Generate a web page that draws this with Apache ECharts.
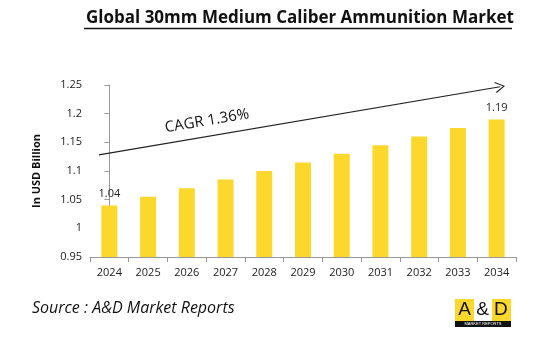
<!DOCTYPE html>
<html><head><meta charset="utf-8">
<script src="https://cdn.jsdelivr.net/npm/echarts@6/dist/echarts.min.js"></script>
<style>html,body{margin:0;padding:0;background:#fff}#c{width:550px;height:341px}</style>
</head><body><div id="c"></div>
<script>
const years = ['2024','2025','2026','2027','2028','2029','2030','2031','2032','2033','2034'];
const values = [1.04, 1.055, 1.07, 1.085, 1.10, 1.115, 1.13, 1.145, 1.16, 1.175, 1.19];
const labeledYears = ['2024','2034'];
const cagrStart = [-0.27, 1.128];
const cagrEnd = [10.09, 1.247];
const titleText = 'Global 30mm Medium Caliber Ammunition Market';
const cagrText = 'CAGR 1.36%';
const sourceText = 'Source : A&D Market Reports';

const font = '"Open Sans", "Liberation Sans", sans-serif';
const chart = echarts.init(document.getElementById('c'));
chart.setOption({
  animation: false,
  title: {
    text: titleText, left: 81, top: 5,
    textStyle: {fontFamily: font, fontWeight: 'bold', fontSize: 17, color: '#111'}
  },
  grid: {left: 90, right: 34, top: 85, bottom: 84},
  xAxis: [{
    type: 'category', data: years,
    axisLine: {lineStyle: {color: '#999'}},
    axisTick: {show: true, alignWithLabel: false, lineStyle: {color: '#999'}},
    axisLabel: {color: '#222', fontSize: 11, fontFamily: font, margin: 10}
  }, {
    type: 'value', min: -0.5, max: 10.5, show: false
  }],
  yAxis: {
    type: 'value', min: 0.95, max: 1.25, interval: 0.05,
    name: 'In USD Billion', nameLocation: 'middle', nameGap: 48,
    nameTextStyle: {fontFamily: font, fontWeight: 'bold', fontSize: 11, color: '#111'},
    axisLine: {show: true, lineStyle: {color: '#999'}},
    axisTick: {show: true, lineStyle: {color: '#999'}},
    splitLine: {show: false},
    axisLabel: {color: '#222', fontSize: 11, fontFamily: font, margin: 8,
      formatter: v => String(parseFloat(v.toFixed(2)))}
  },
  series: [{
    type: 'bar', barWidth: 16,
    itemStyle: {color: '#FDD82C'},
    data: values.map((v, i) => ({
      value: v,
      label: {show: labeledYears.includes(years[i]), position: 'top', distance: 6,
        color: '#222', fontSize: 11, fontFamily: font}
    }))
  }, {
    type: 'line', xAxisIndex: 1, data: [], silent: true,
    markLine: {
      silent: true,
      symbol: ['none', 'path://M0,10 L5,0 L10,10 L9.2,10.6 L5,2.2 L0.8,10.6 Z'],
      symbolSize: [11, 10],
      lineStyle: {color: '#222', width: 1.2, type: 'solid'},
      label: {show: false},
      data: [[{coord: cagrStart}, {coord: cagrEnd}]]
    }
  }],
  graphic: [
    {type: 'line', shape: {x1: 84, y1: 28.5, x2: 512, y2: 28.5}, style: {stroke: '#111', lineWidth: 1.5}},
    {type: 'text', x: 207, y: 121, rotation: 9.7 * Math.PI / 180,
      style: {text: cagrText, fontFamily: font, fontSize: 15, fill: '#111', align: 'center', verticalAlign: 'middle'}},
    {type: 'text', x: 32, y: 308,
      style: {text: sourceText, fontFamily: font, fontStyle: 'italic', fontSize: 16, fill: '#111', verticalAlign: 'middle'}},
    {type: 'rect', shape: {x: 455, y: 299, width: 56, height: 22}, style: {fill: '#FDD82C'}},
    {type: 'rect', shape: {x: 474, y: 299, width: 18, height: 22}, style: {fill: '#fff'}},
    {type: 'rect', shape: {x: 455, y: 321, width: 56, height: 6}, style: {fill: '#111'}},
    {type: 'text', x: 483, y: 310, style: {text: 'A & D', fontFamily: '"Liberation Sans", sans-serif', fontSize: 19, fill: '#111', align: 'center', verticalAlign: 'middle'}},
    {type: 'text', x: 483, y: 324, style: {text: 'MARKET REPORTS', fontFamily: '"Liberation Sans", sans-serif', fontSize: 4, fill: '#fff', align: 'center', verticalAlign: 'middle'}}
  ]
});
</script></body></html>
